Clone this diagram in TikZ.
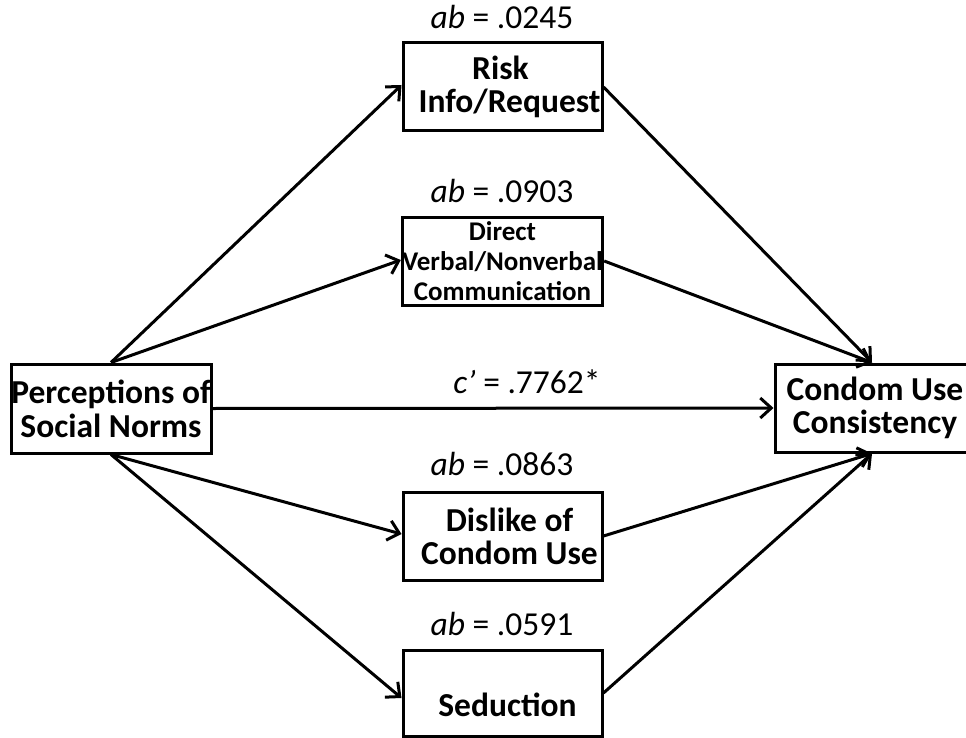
\documentclass[tikz,border=0pt]{standalone}
\usepackage{fontspec}
\setmainfont{Carlito}
\usetikzlibrary{arrows.meta}
\begin{document}
\begin{tikzpicture}[x=1pt,y=-1pt,
 box/.style={draw,line width=3pt,minimum width=199pt,minimum height=88pt,inner sep=0pt,align=center,font=\fontsize{33.5}{33}\selectfont\bfseries},
 lab/.style={font=\fontsize{33.5}{36}\selectfont,anchor=base},
 arr/.style={line width=3pt,-{Straight Barb[length=11pt,width=20pt,line width=3pt]}}]
\clip (0,0) rectangle (966,738);
\node[box,minimum width=200pt,minimum height=89pt,font=\fontsize{33.5}{34}\selectfont\bfseries] (P) at (111,408.5) {Perceptions of\\Social Norms};
\node[box] (R) at (502.5,87) {\hspace*{-4pt}Risk\\\hspace*{14pt}Info/Request};
\node[box,font=\fontsize{27}{30}\selectfont\bfseries] (D) at (502.5,261) {Direct\\Verbal/Nonverbal\\Communication};
\node[box] (L) at (502.5,536) {\hspace*{14pt}Dislike of\\\hspace*{14pt}Condom Use};
\node[box,minimum height=86pt] (S) at (502.5,693) {\rule{0pt}{48pt}\hspace*{10pt}Seduction};
\node[box,minimum width=200pt] (C) at (875,408) {Condom Use\\Consistency};
\node[lab] (lr) at (502,29) {\textit{ab} = .0245};
\node[lab] (ld) at (502,203) {\textit{ab} = .0903};
\node[lab] (lc) at (527,393) {\textit{c’} = .7762*};
\node[lab] (ll) at (502,475) {\textit{ab} = .0863};
\node[lab] (ls) at (502,635) {\textit{ab} = .0591};
\draw[arr] (P.north) -- ([yshift=2pt]R.west);
\draw[arr] (P.north) -- ([yshift=1pt]D.west);
\draw[arr] (P.south) -- ([yshift=2pt]L.west);
\draw[arr] (P.south) -- ([yshift=-5pt]S.west);
\draw[arr] (P.east) -- (C.west);
\draw[arr] (R.east) -- ([xshift=-3pt]C.north);
\draw[arr] (D.east) -- ([xshift=-3pt]C.north);
\draw[arr] (L.east) -- ([xshift=-3pt]C.south);
\draw[arr] (S.east) -- ([xshift=-3pt]C.south);
\end{tikzpicture}
\end{document}
